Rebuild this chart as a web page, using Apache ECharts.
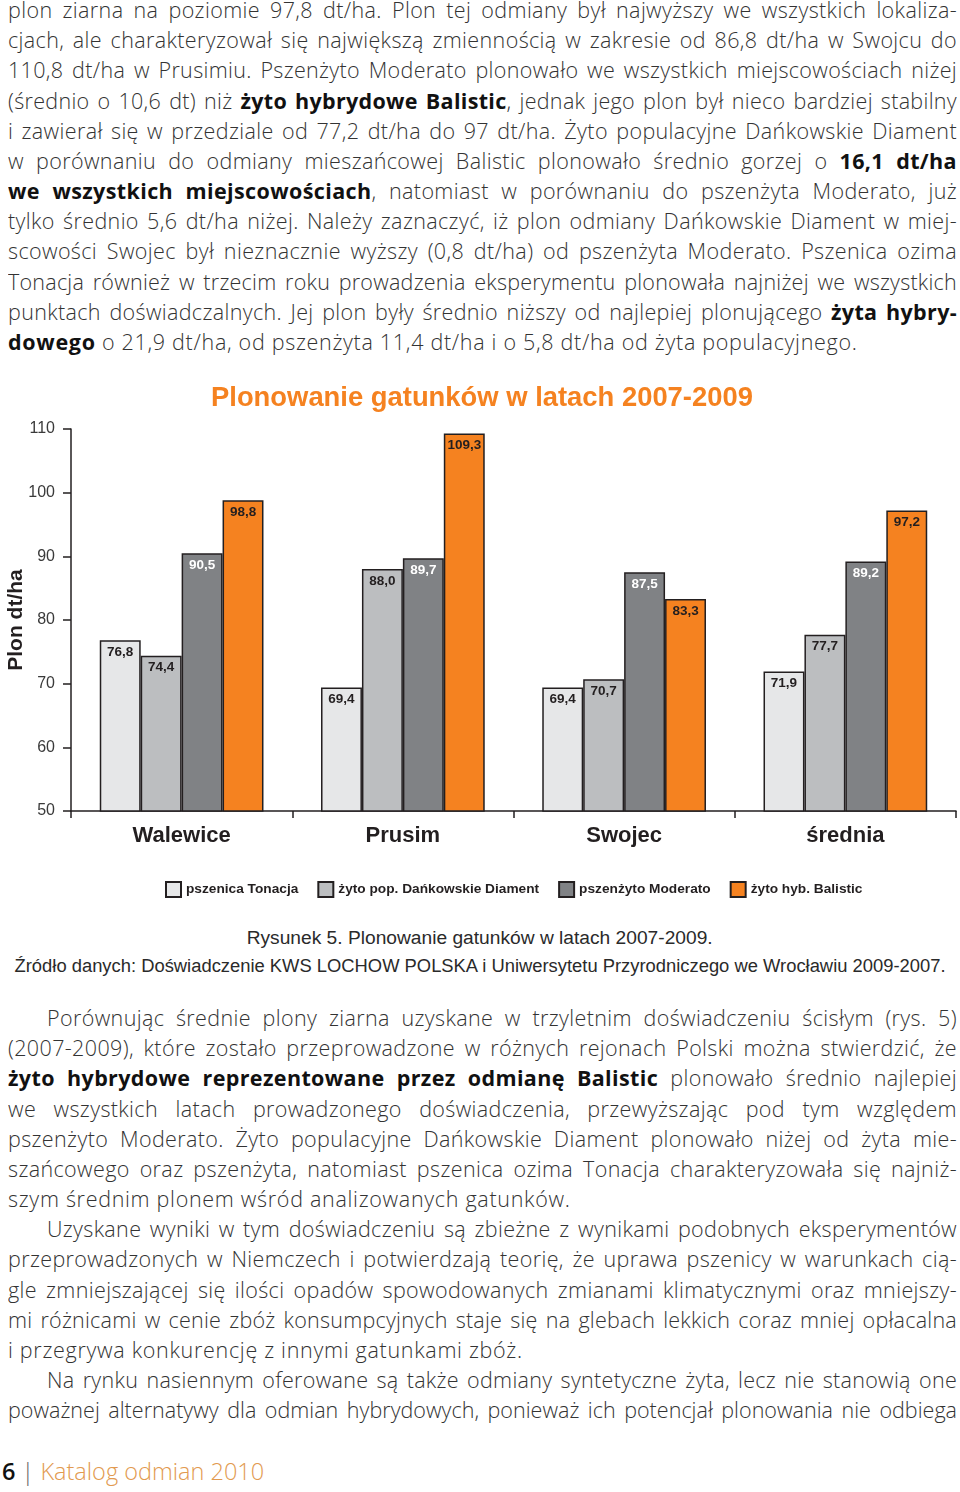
<!DOCTYPE html>
<html>
<head>
<meta charset="utf-8">
<script src="https://cdn.jsdelivr.net/npm/echarts@6/dist/echarts.min.js"></script>
<style>
  html, body { margin: 0; padding: 0; background: #fff; }
  body { width: 960px; height: 1492px; position: relative; overflow: hidden; font-family: "Open Sans", "Liberation Sans", sans-serif; }
  .ln { position: absolute; left: 8px; width: 949px; height: 30.18px; line-height: 30.18px; font-size: 21.5px; font-weight: 300; color: #333; overflow: hidden; white-space: normal; }
  .ln b { font-weight: 700; color: #111; }
  .j { text-align: justify; text-align-last: justify; }
  .l { text-align: left; }
  #chart { position: absolute; left: 0; top: 370px; width: 960px; height: 545px; }
  .cap { position: absolute; left: 0; width: 960px; text-align: center; font-family: "Liberation Sans", sans-serif; font-size: 18px; line-height: 22px; color: #2a2a2a; white-space: nowrap; }
  .cap span { display: inline-block; }
  #foot { position: absolute; left: 2px; top: 1456px; font-size: 23.5px; line-height: 30px; font-weight: 300; white-space: nowrap; }
</style>
</head>
<body>
<div id="top"></div>
<div id="chart"></div>
<div class="cap" id="cap1" style="top:927px"><span data-w="466">Rysunek 5. Plonowanie gatunków w latach 2007-2009.</span></div>
<div class="cap" id="cap2" style="top:955px"><span data-w="931">Źródło danych: Doświadczenie KWS LOCHOW POLSKA i Uniwersytetu Przyrodniczego we Wrocławiu 2009-2007.</span></div>
<div id="foot"><span style="color:#111;font-weight:600">6</span> <span style="color:#666">|</span> <span style="color:#e29a4f">Katalog odmian 2010</span></div>
<script>
// ---- Data ----
const categories = ['Walewice', 'Prusim', 'Swojec', 'średnia'];
const seriesNames = ['pszenica Tonacja', 'żyto pop. Dańkowskie Diament', 'pszenżyto Moderato', 'żyto hyb. Balistic'];
const tonacja = [76.8, 69.4, 69.4, 71.9];
const diament = [74.4, 88.0, 70.7, 77.7];
const moderato = [90.5, 89.7, 87.5, 89.2];
const balistic = [98.8, 109.3, 83.3, 97.2];
const yMin = 50, yMax = 110, yInterval = 10;
const chartTitle = 'Plonowanie gatunków w latach 2007-2009';
const yAxisName = 'Plon dt/ha';

// ---- Page text ----
const topLines = [
  ['plon ziarna na poziomie 97,8 dt/ha. Plon tej odmiany był najwyższy we wszystkich lokaliza-', 'j'],
  ['cjach, ale charakteryzował się największą zmiennością w zakresie od 86,8 dt/ha w Swojcu do', 'j'],
  ['110,8 dt/ha w Prusimiu. Pszenżyto Moderato plonowało we wszystkich miejscowościach niżej', 'j'],
  ['(średnio o 10,6 dt) niż **żyto hybrydowe Balistic**, jednak jego plon był nieco bardziej stabilny', 'j'],
  ['i zawierał się w przedziale od 77,2 dt/ha do 97 dt/ha. Żyto populacyjne Dańkowskie Diament', 'j'],
  ['w porównaniu do odmiany mieszańcowej Balistic plonowało średnio gorzej o **16,1 dt/ha**', 'j'],
  ['**we wszystkich miejscowościach**, natomiast w porównaniu do pszenżyta Moderato, już', 'j'],
  ['tylko średnio 5,6 dt/ha niżej. Należy zaznaczyć, iż plon odmiany Dańkowskie Diament w miej-', 'j'],
  ['scowości Swojec był nieznacznie wyższy (0,8 dt/ha) od pszenżyta Moderato. Pszenica ozima', 'j'],
  ['Tonacja również w trzecim roku prowadzenia eksperymentu plonowała najniżej we wszystkich', 'j'],
  ['punktach doświadczalnych. Jej plon były średnio niższy od najlepiej plonującego **żyta hybry-**', 'j'],
  ['**dowego** o 21,9 dt/ha, od pszenżyta 11,4 dt/ha i o 5,8 dt/ha od żyta populacyjnego.', 'l']
];
const bottomLines = [
  ['Porównując średnie plony ziarna uzyskane w trzyletnim doświadczeniu ścisłym (rys. 5)', 'i'],
  ['(2007-2009), które zostało przeprowadzone w różnych rejonach Polski można stwierdzić, że', 'j'],
  ['**żyto hybrydowe reprezentowane przez odmianę Balistic** plonowało średnio najlepiej', 'j'],
  ['we wszystkich latach prowadzonego doświadczenia, przewyższając pod tym względem', 'j'],
  ['pszenżyto Moderato. Żyto populacyjne Dańkowskie Diament plonowało niżej od żyta mie-', 'j'],
  ['szańcowego oraz pszenżyta, natomiast pszenica ozima Tonacja charakteryzowała się najniż-', 'j'],
  ['szym średnim plonem wśród analizowanych gatunków.', 'l'],
  ['Uzyskane wyniki w tym doświadczeniu są zbieżne z wynikami podobnych eksperymentów', 'i'],
  ['przeprowadzonych w Niemczech i potwierdzają teorię, że uprawa pszenicy w warunkach cią-', 'j'],
  ['gle zmniejszającej się ilości opadów spowodowanych zmianami klimatycznymi oraz mniejszy-', 'j'],
  ['mi różnicami w cenie zbóż konsumpcyjnych staje się na glebach lekkich coraz mniej opłacalna', 'j'],
  ['i przegrywa konkurencję z innymi gatunkami zbóż.', 'l'],
  ['Na rynku nasiennym oferowane są także odmiany syntetyczne żyta, lecz nie stanowią one', 'i'],
  ['poważnej alternatywy dla odmian hybrydowych, ponieważ ich potencjał plonowania nie odbiega', 'j']
];

const BASE_LS = 0.7;
function md(s) { return s.replace(/\*\*(.+?)\*\*/g, '<b>$1</b>'); }
function placeLines(lines, top0) {
  const LH = 30.18;
  lines.forEach(function (item, i) {
    const d = document.createElement('div');
    const indent = item[1] === 'i' ? 39 : 0;
    d.className = 'ln ' + (item[1] === 'l' ? 'l' : 'j');
    d.style.top = (top0 + i * LH) + 'px';
    d.style.left = (8 + indent) + 'px';
    d.style.width = (949 - indent) + 'px';
    d.style.letterSpacing = BASE_LS + 'px';
    const probe = document.createElement('span');
    probe.style.whiteSpace = 'nowrap';
    probe.innerHTML = md(item[0]);
    d.appendChild(probe);
    document.body.appendChild(d);
    const w = probe.getBoundingClientRect().width;
    const n = item[0].replace(/\*/g, '').length;
    const avail = 949 - indent - 2 - n * 0.3;
    if (w > avail) {
      d.style.letterSpacing = (BASE_LS - (w - avail) / n) + 'px';
    }
    d.innerHTML = md(item[0]);
  });
}
placeLines(topLines, -5);
placeLines(bottomLines, 1003);

document.querySelectorAll('.cap span').forEach(function (s) {
  const w = s.getBoundingClientRect().width;
  const t = parseFloat(s.getAttribute('data-w'));
  s.style.transform = 'scaleX(' + (t / w) + ')';
  s.style.transformOrigin = 'center';
});

// ---- Chart ----
const chart = echarts.init(document.getElementById('chart'), null, { renderer: 'canvas' });
const colors = ['#e6e7e8', '#bcbec0', '#808285', '#f58220'];
const labelColors = ['#231f20', '#231f20', '#ffffff', '#231f20'];
const values = [tonacja, diament, moderato, balistic];
const fmt = function (v) { return v.toFixed(1).replace('.', ','); };

chart.setOption({
  animation: false,
  textStyle: { fontFamily: 'Liberation Sans' },
  title: {
    text: chartTitle,
    left: 206,
    top: 10,
    textStyle: { color: '#f58220', fontSize: 27.4, fontWeight: 'bold', fontFamily: 'Liberation Sans' }
  },
  legend: {
    bottom: 12,
    left: 160,
    itemWidth: 15,
    itemHeight: 15,
    itemGap: 19,
    icon: 'rect',
    textStyle: { color: '#231f20', fontSize: 13.7, fontWeight: 'bold', fontFamily: 'Liberation Sans' },
    data: seriesNames
  },
  grid: { left: 71, right: 4, top: 59, bottom: 104, containLabel: false, outerBoundsMode: 'none' },
  xAxis: {
    type: 'category',
    data: categories,
    axisLine: { lineStyle: { color: '#231f20', width: 1.5 } },
    axisTick: { show: true, length: 7, lineStyle: { color: '#231f20', width: 1.5 } },
    axisLabel: { color: '#231f20', fontSize: 22, fontWeight: 'bold', margin: 14, fontFamily: 'Liberation Sans' }
  },
  yAxis: {
    type: 'value',
    min: yMin, max: yMax, interval: yInterval,
    name: yAxisName,
    nameLocation: 'middle',
    nameGap: 44,
    nameMoveOverlap: false,
    nameRotate: 90,
    nameTextStyle: { color: '#231f20', fontSize: 21, fontWeight: 'bold', fontFamily: 'Liberation Sans' },
    axisLine: { show: true, lineStyle: { color: '#231f20', width: 1.5 } },
    axisTick: { show: true, length: 8, lineStyle: { color: '#231f20', width: 1.5 } },
    axisLabel: { color: '#3a3a3a', fontSize: 16, margin: 16, fontFamily: 'Liberation Sans' },
    splitLine: { show: false }
  },
  series: seriesNames.map(function (name, i) {
    return {
      name: name,
      type: 'bar',
      data: values[i],
      barGap: '0%',
      barCategoryGap: '26%',
      itemStyle: { color: colors[i], borderColor: '#231f20', borderWidth: 1.5 },
      label: {
        show: true,
        position: 'insideTop',
        distance: 5,
        color: labelColors[i],
        fontSize: 13.5,
        fontWeight: 'bold',
        fontFamily: 'Liberation Sans',
        formatter: function (p) { return fmt(p.value); }
      }
    };
  })
});
</script>
</body>
</html>
